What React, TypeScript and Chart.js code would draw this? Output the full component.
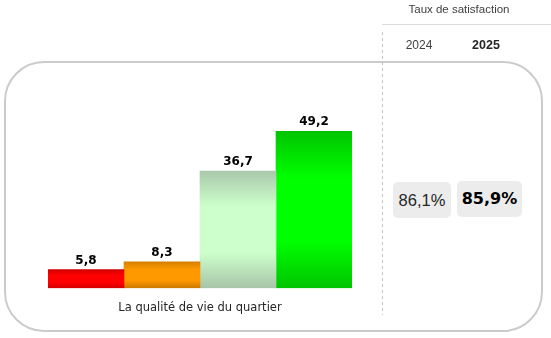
import React, { useEffect, useRef } from "react";
import { Chart, registerables } from "chart.js";

Chart.register(...registerables);

const categories = ["La qualité de vie du quartier"];
const seriesNames = ["Pas du tout satisfait", "Peu satisfait", "Assez satisfait", "Très satisfait"];
const seriesValues = [[5.8], [8.3], [36.7], [49.2]];
const seriesStops = [
  ["#d20000", "#ff0000", "#ff0000", "#d00000"],
  ["#d48000", "#ff9900", "#ff9900", "#cc7800"],
  ["#aac8aa", "#ccffcc", "#ccffcc", "#a8c4a8"],
  ["#00c400", "#00ff00", "#00ff00", "#00c400"],
];
const headerTitle = "Taux de satisfaction";
const years = ["2024", "2025"];
const rates = ["86,1%", "85,9%"];

const fmt = (v: number) => v.toFixed(1).replace(".", ",");

const overlayPlugin = {
  id: "overlay",
  afterDatasetsDraw(chart: any) {
    const ctx = chart.ctx;
    ctx.save();
    ctx.font = "bold 12px 'DejaVu Sans'";
    ctx.fillStyle = "#000";
    ctx.textAlign = "center";
    ctx.textBaseline = "alphabetic";
    chart.data.datasets.forEach((ds: any, i: number) => {
      const meta = chart.getDatasetMeta(i);
      meta.data.forEach((bar: any, j: number) => {
        ctx.fillText(fmt(ds.data[j]), bar.x, bar.y - 6);
      });
    });
    // dashed separator
    ctx.strokeStyle = "#c4c4c4";
    ctx.lineWidth = 1;
    ctx.setLineDash([3, 3]);
    ctx.beginPath();
    ctx.moveTo(382.5, 32);
    ctx.lineTo(382.5, 315);
    ctx.stroke();
    ctx.setLineDash([]);
    ctx.strokeStyle = "#dadada";
    ctx.beginPath();
    ctx.moveTo(382, 24.5);
    ctx.lineTo(551, 24.5);
    ctx.stroke();
    ctx.restore();
  },
};

export default function App() {
  const ref = useRef<HTMLCanvasElement | null>(null);

  useEffect(() => {
    document.body.style.margin = "0";
    const canvas = ref.current!;
    const chart = new Chart(canvas, {
      type: "bar",
      data: {
        labels: categories,
        datasets: seriesValues.map((vals, i) => ({
          label: seriesNames[i],
          data: vals,
          borderWidth: 0,
          backgroundColor: (c: any) => {
            const ch = c.chart;
            const stops = seriesStops[i];
            if (!ch.chartArea || c.raw === undefined) return stops[1];
            const top = ch.scales.y.getPixelForValue(c.raw);
            const bottom = ch.scales.y.getPixelForValue(0);
            const g = ch.ctx.createLinearGradient(0, top, 0, bottom);
            g.addColorStop(0, stops[0]);
            g.addColorStop(0.3, stops[1]);
            g.addColorStop(0.7, stops[2]);
            g.addColorStop(1, stops[3]);
            return g;
          },
          categoryPercentage: 1,
          barPercentage: 1,
        })),
      },
      options: {
        animation: false,
        responsive: false,
        maintainAspectRatio: false,
        layout: { padding: { left: 48, right: 199, top: 100, bottom: 10 } },
        plugins: {
          legend: { display: false },
          tooltip: { enabled: false },
          title: { display: false },
        },
        scales: {
          x: {
            grid: { display: false, drawTicks: false },
            border: { display: false },
            ticks: {
              padding: 13,
              color: "#262626",
              font: { family: "'DejaVu Sans'", size: 11.5 },
            },
          },
          y: { display: false, min: 0, max: 59 },
        },
      },
      plugins: [overlayPlugin],
    });
    return () => chart.destroy();
  }, []);

  const abs = (s: any) => ({ position: "absolute" as const, ...s });

  return (
    <div style={abs({ left: 0, top: 0, width: 551, height: 338, background: "#fff", overflow: "hidden" })}>
      <div
        style={abs({
          left: 4,
          top: 61,
          width: 539,
          height: 271,
          boxSizing: "border-box",
          border: "2px solid #cbcbcb",
          borderRadius: 40,
        })}
      />
      <canvas ref={ref} width={551} height={338} style={abs({ left: 0, top: 0, width: 551, height: 338 })} />
      <div
        style={abs({
          left: 384,
          top: 1,
          width: 150,
          height: 17,
          textAlign: "center",
          font: "11.5px 'Liberation Sans'",
          lineHeight: "17px",
          color: "#404040",
        })}
      >
        {headerTitle}
      </div>
      <div style={abs({ left: 394, top: 36, width: 50, height: 18, textAlign: "center", font: "12px 'Liberation Sans'", lineHeight: "18px", color: "#404040" })}>
        {years[0]}
      </div>
      <div style={abs({ left: 461, top: 36, width: 50, height: 18, textAlign: "center", font: "bold 12.5px 'Liberation Sans'", lineHeight: "18px", color: "#262626" })}>
        {years[1]}
      </div>
      <div
        style={abs({
          left: 393,
          top: 182,
          width: 58,
          height: 36,
          textAlign: "center",
          background: "#ececec",
          borderRadius: 5,
          font: "16.5px 'Liberation Sans'",
          lineHeight: "36px",
          color: "#262626",
        })}
      >
        {rates[0]}
      </div>
      <div
        style={abs({
          left: 457,
          top: 181,
          width: 65,
          height: 36,
          textAlign: "center",
          background: "#ececec",
          borderRadius: 5,
          font: "bold 16px 'DejaVu Sans'",
          lineHeight: "36px",
          color: "#000",
        })}
      >
        {rates[1]}
      </div>
    </div>
  );
}
